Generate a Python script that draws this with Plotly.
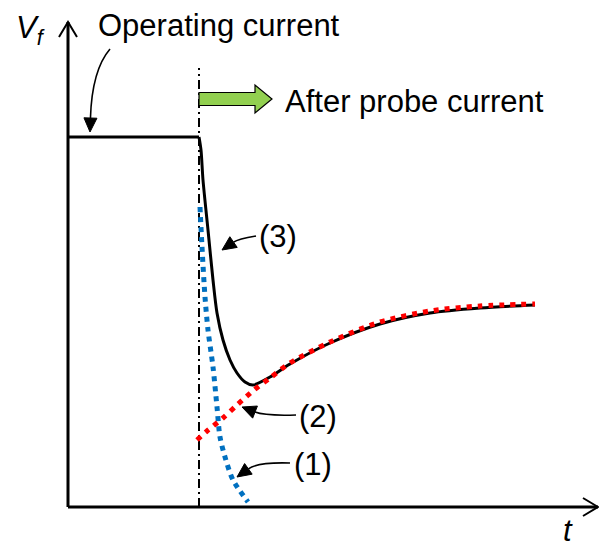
import plotly.graph_objects as go

# ---------------- data (t, Vf in arbitrary units) ----------------
op_t = [0.0, 2.62]
op_v = [7.40, 7.40]

total_t = [2.62, 2.66, 2.70, 2.80, 2.90, 2.98, 3.10, 3.24, 3.38, 3.54, 3.70,
           4.04, 4.44, 5.24, 6.24, 7.24, 8.24, 9.34]
total_v = [7.40, 7.14, 6.54, 5.54, 4.54, 3.88, 3.34, 2.94, 2.68, 2.50, 2.44,
           2.60, 2.86, 3.28, 3.66, 3.88, 3.98, 4.04]

slow_t = [2.58, 2.78, 3.10, 3.38, 3.72, 4.04, 4.44, 5.24, 6.24, 7.24, 8.24, 9.34]
slow_v = [1.34, 1.52, 1.78, 2.04, 2.34, 2.58, 2.88, 3.30, 3.70, 3.92, 4.02, 4.06]

fast_t = [2.64, 2.68, 2.74, 2.80, 2.90, 2.98, 3.04, 3.14, 3.30, 3.60]
fast_v = [6.00, 5.20, 4.20, 3.54, 2.80, 2.00, 1.40, 1.00, 0.54, 0.10]

switch_t = 2.62
switch_top = 8.78
t_axis_end = 10.60
v_axis_end = 9.70

# labels: text, left x, centre y
labels = [
    ("Operating current", 0.56, 9.64),
    ("After probe current", 4.30, 8.12),
    ("(3)", 3.78, 5.42),
    ("(2)", 4.58, 1.82),
    ("(1)", 4.48, 0.86),
]
# curved pointer arrows: start, control, tip
pointers = [
    ((0.84, 9.16), (0.48, 8.74), (0.44, 7.50)),
    ((3.76, 5.42), (3.40, 5.36), (3.08, 5.14)),
    ((4.56, 1.84), (3.94, 1.82), (3.48, 2.00)),
    ((4.44, 0.88), (3.80, 0.90), (3.38, 0.60)),
]

FONT = "Liberation Sans, Arial, sans-serif"
FS = 31

fig = go.Figure()

# dash-dot switch line
fig.add_trace(go.Scatter(x=[switch_t, switch_t], y=[0, switch_top], mode="lines",
                         line=dict(color="black", width=2, dash="9px,4px,2px,4px"),
                         hoverinfo="skip"))
# operating level
fig.add_trace(go.Scatter(x=op_t, y=op_v, mode="lines",
                         line=dict(color="black", width=3), hoverinfo="skip"))
# (1) fast component
fig.add_trace(go.Scatter(x=fast_t, y=fast_v, mode="lines", line_shape="spline",
                         line=dict(color="#0070C0", width=5, dash="5px,5px", smoothing=0.8),
                         hoverinfo="skip"))
# (3) total
fig.add_trace(go.Scatter(x=total_t, y=total_v, mode="lines", line_shape="spline",
                         line=dict(color="black", width=3, smoothing=0.8),
                         hoverinfo="skip"))
# (2) slow component
fig.add_trace(go.Scatter(x=slow_t, y=slow_v, mode="lines", line_shape="spline",
                         line=dict(color="#FF0000", width=5, dash="5px,6px", smoothing=0.8),
                         hoverinfo="skip"))

shapes = []
# axes
shapes.append(dict(type="line", x0=0, y0=0, x1=0, y1=v_axis_end,
                   line=dict(color="black", width=3)))
shapes.append(dict(type="line", x0=0, y0=0, x1=t_axis_end, y1=0,
                   line=dict(color="black", width=3)))
# open chevrons
ah_l, ah_w = 0.30, 0.18
shapes.append(dict(type="path",
                   path=f"M{-ah_w},{v_axis_end-ah_l} L0,{v_axis_end} L{ah_w},{v_axis_end-ah_l}",
                   line=dict(color="black", width=2)))
shapes.append(dict(type="path",
                   path=f"M{t_axis_end-ah_l},{ah_w} L{t_axis_end},0 L{t_axis_end-ah_l},{-ah_w}",
                   line=dict(color="black", width=2)))

# green block arrow
g_x0, g_body, g_tip, g_y, g_bh, g_hh = switch_t, 3.74, 4.08, 8.16, 0.13, 0.28
shapes.append(dict(type="path",
                   path=(f"M{g_x0},{g_y-g_bh} L{g_body},{g_y-g_bh} L{g_body},{g_y-g_hh} "
                         f"L{g_tip},{g_y} L{g_body},{g_y+g_hh} L{g_body},{g_y+g_bh} "
                         f"L{g_x0},{g_y+g_bh} Z"),
                   fillcolor="#92D050", line=dict(color="black", width=1.2)))

# curved pointers with filled heads
HL, HW = 0.28, 0.13
for (p0, c, p2) in pointers:
    dx, dy = p2[0] - c[0], p2[1] - c[1]
    n = (dx * dx + dy * dy) ** 0.5
    ux, uy = dx / n, dy / n
    bx, by = p2[0] - ux * HL, p2[1] - uy * HL
    shapes.append(dict(type="path",
                       path=f"M{p0[0]},{p0[1]} Q{c[0]},{c[1]} {bx},{by}",
                       line=dict(color="black", width=1.6)))
    px, py = -uy, ux
    shapes.append(dict(type="path",
                       path=(f"M{p2[0]},{p2[1]} L{bx+px*HW},{by+py*HW} "
                             f"L{bx-px*HW},{by-py*HW} Z"),
                       fillcolor="black", line=dict(color="black", width=1)))

annotations = []
for text, x, y in labels:
    annotations.append(dict(x=x, y=y, text=text, showarrow=False, xanchor="left",
                            yanchor="middle", font=dict(family=FONT, size=FS, color="black")))
annotations.append(dict(x=-0.76, y=9.54, text="<i>V<sub>f</sub></i>", showarrow=False,
                        xanchor="center", yanchor="middle",
                        font=dict(family=FONT, size=FS, color="black")))
annotations.append(dict(x=10.0, y=-0.46, text="<i>t</i>", showarrow=False,
                        xanchor="center", yanchor="middle",
                        font=dict(family=FONT, size=FS, color="black")))

fig.update_layout(
    width=599, height=545, margin=dict(l=0, r=0, t=0, b=0),
    paper_bgcolor="white", plot_bgcolor="white", showlegend=False,
    xaxis=dict(range=[-1.36, 10.62], visible=False, fixedrange=True),
    yaxis=dict(range=[-0.76, 10.14], visible=False, fixedrange=True),
    shapes=shapes, annotations=annotations,
)

fig.write_html("out.html", config={"displayModeBar": False})
